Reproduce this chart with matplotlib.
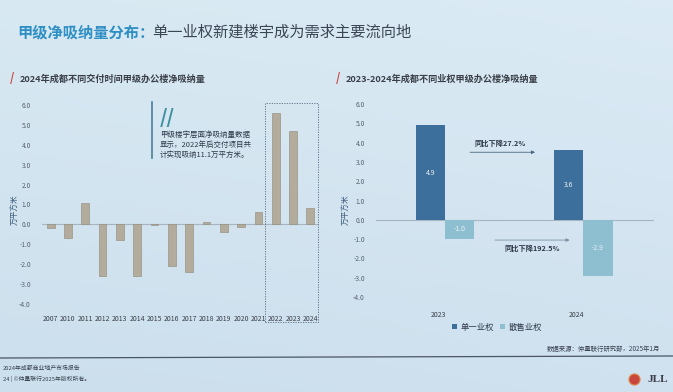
import numpy as np
import matplotlib
matplotlib.use('Agg')
import matplotlib.pyplot as plt
from matplotlib.patches import Rectangle

plt.rcParams['font.family'] = ['Noto Sans CJK SC', 'DejaVu Sans']

# left chart: net absorption by delivery year (10k sqm)
years = ['2007', '2010', '2011', '2012', '2013', '2014', '2015', '2016',
         '2017', '2018', '2019', '2020', '2021', '2022', '2023', '2024']
absorption = [-0.2, -0.7, 1.1, -2.6, -0.8, -2.6, -0.05, -2.1,
              -2.4, 0.1, -0.4, -0.15, 0.6, 5.6, 4.7, 0.8]

# right chart: by ownership type
periods = ['2023', '2024']
single_owner = [4.9, 3.6]
strata_owner = [-1.0, -2.9]
series_names = ['单一业权', '散售业权']

y_ticks = [6.0, 5.0, 4.0, 3.0, 2.0, 1.0, 0.0, -1.0, -2.0, -3.0, -4.0]

W, H = 673, 392
fig = plt.figure(figsize=(W / 100, H / 100), dpi=100)

# background gradient
bg = fig.add_axes([0, 0, 1, 1], zorder=-10)
gx = np.linspace(0, 1, 200)
gy = np.linspace(0, 1, 120)
X, Y = np.meshgrid(gx, gy)
c_top = np.array([0.86, 0.92, 0.96])
c_bot = np.array([0.80, 0.87, 0.93])
c_left = np.array([0.80, 0.89, 0.92])
img = (c_top * (1 - Y[..., None]) + c_bot * Y[..., None]) * 0.75 + \
      (c_left * (1 - X[..., None]) + c_top * X[..., None]) * 0.25
bg.imshow(img, aspect='auto', extent=[0, 1, 0, 1])
bg.set_xlim(0, 1)
bg.set_ylim(0, 1)
bg.set_axis_off()


def fx(px):
    return px / W


def fy(py):
    return 1 - py / H


# title
fig.text(fx(17), fy(32), '甲级净吸纳量分布：', fontsize=11, fontweight='bold',
         color='#2e8fc4', va='center', ha='left')
fig.text(fx(152), fy(32), '单一业权新建楼宇成为需求主要流向地', fontsize=11,
         color='#3b4654', va='center', ha='left')

# subtitles
for x0, txt in [(10, '2024年成都不同交付时间甲级办公楼净吸纳量'),
                (336, '2023-2024年成都不同业权甲级办公楼净吸纳量')]:
    fig.text(fx(x0), fy(79), '/', fontsize=8, fontweight='bold', color='#c8473d',
             va='center', ha='left')
    fig.text(fx(x0 + 10), fy(79), txt, fontsize=6.6, fontweight='bold',
             color='#3a3f48', va='center', ha='left')

# ---------- left chart ----------
ax1 = fig.add_axes([fx(42), fy(304), fx(277), 199 / H])
xs = np.arange(len(years))
ax1.bar(xs, absorption, width=0.45, color='#b3ac9c', edgecolor='#8f8878',
        linewidth=0.4, zorder=3)
ax1.axhline(0, color='#a8b4c0', linewidth=0.8, zorder=2)
ax1.set_ylim(-4, 6)
ax1.set_xlim(-0.5, len(years) - 0.5)
ax1.set_yticks(y_ticks)
ax1.set_yticklabels([f'{v:.1f}' for v in y_ticks])
ax1.set_xticks(xs)
ax1.set_xticklabels(years)
ax1.tick_params(axis='y', length=0, labelsize=4.8, colors='#5a6270', pad=8)
ax1.tick_params(axis='x', length=0, labelsize=5, colors='#3a3f48', pad=8)
for s in ax1.spines.values():
    s.set_visible(False)
ax1.patch.set_alpha(0)
ax1.add_patch(Rectangle((12.4, -4.9), 3.05, 11.0, fill=False, linestyle=(0, (1.5, 1.5)),
                        edgecolor='#5a6a80', linewidth=0.6, clip_on=False, zorder=4))
fig.text(fx(15), fy(210), '万平方米', rotation=90, fontsize=5.5, color='#3a5a7a',
         va='center', ha='center')

# quote box
fig.add_artist(plt.Line2D([fx(152), fx(152)], [fy(102), fy(158)],
                          color='#4a7f9a', linewidth=1.2))
fig.text(fx(160), fy(117), '//', fontsize=14, fontweight='bold', color='#3d8f9e',
         va='center', ha='left', style='italic')
fig.text(fx(160), fy(145), '甲级楼宇层面净吸纳量数据\n显示，2022年后交付项目共\n计实现吸纳11.1万平方米。',
         fontsize=5.4, color='#2f3a4a', va='center', ha='left', linespacing=1.3)

# ---------- right chart ----------
ax2 = fig.add_axes([fx(376), fy(297), fx(278), 193 / H])
px = np.arange(len(periods))
bw = 0.21
b1 = ax2.bar(px - bw / 2, single_owner, width=bw, color='#3d6f9c', zorder=3,
             label=series_names[0])
b2 = ax2.bar(px + bw / 2, strata_owner, width=bw, color='#8ebfd0', zorder=3,
             label=series_names[1])
for bars, vals in [(b1, single_owner), (b2, strata_owner)]:
    for r, v in zip(bars, vals):
        ax2.text(r.get_x() + r.get_width() / 2, v / 2, f'{v:.1f}', ha='center',
                 va='center', fontsize=5, color='#e8f0f6', zorder=4)
ax2.axhline(0, color='#a8b4c0', linewidth=0.8, zorder=2)
ax2.set_ylim(-4, 6)
ax2.set_xlim(-0.5, 1.51)
ax2.set_yticks(y_ticks)
ax2.set_yticklabels([f'{v:.1f}' for v in y_ticks])
ax2.set_xticks(px - 0.05)
ax2.set_xticklabels(periods)
ax2.tick_params(axis='y', length=0, labelsize=4.8, colors='#5a6270', pad=8)
ax2.tick_params(axis='x', length=0, labelsize=5, colors='#3a3f48', pad=10)
for s in ax2.spines.values():
    s.set_visible(False)
ax2.patch.set_alpha(0)
fig.text(fx(346), fy(210), '万平方米', rotation=90, fontsize=5.5, color='#3a5a7a',
         va='center', ha='center')

# growth arrows
ax2.annotate('', xy=(0.67, 3.5), xytext=(0.16, 3.5),
             arrowprops=dict(arrowstyle='-|>', color='#4d6880', lw=0.6,
                             mutation_scale=5))
ax2.text(0.40, 3.95, '同比下降27.2%', fontsize=5.2, color='#2f3a4a',
         ha='center', va='center', fontweight='bold')
ax2.annotate('', xy=(0.92, -1.05), xytext=(0.34, -1.05),
             arrowprops=dict(arrowstyle='-|>', color='#7d92a6', lw=0.6,
                             mutation_scale=5))
ax2.text(0.63, -1.5, '同比下降192.5%', fontsize=5.2, color='#2f3a4a',
         ha='center', va='center', fontweight='bold')

leg = fig.legend(handles=[b1, b2], loc='center', bbox_to_anchor=(fx(497), fy(327)),
                 ncol=2, frameon=False, fontsize=6, handlelength=0.6,
                 handleheight=0.6, columnspacing=0.8, handletextpad=0.4)
for t in leg.get_texts():
    t.set_color('#2f3a4a')

# footer
fig.add_artist(plt.Line2D([0, 1], [fy(358), fy(356)], color='#4a5664', linewidth=0.9))
fig.text(fx(660), fy(353), '数据来源：仲量联行研究部，2025年1月', fontsize=4.6,
         color='#3a4250', ha='right', va='bottom')
fig.text(fx(3), fy(367), '2024年成都商业地产市场报告', fontsize=4.2, color='#3a4250',
         ha='left', va='center')
fig.text(fx(3), fy(379), '24 | ©仲量联行2025年版权所有。', fontsize=4.2, color='#3a4250',
         ha='left', va='center')
fig.text(fx(668), fy(379), 'JLL', fontsize=8, fontweight='bold', color='#3a3f48',
         ha='right', va='center', family='Liberation Serif')
bg.plot([fx(634)], [fy(379)], marker='o', markersize=8, color='#c8473d',
        markeredgecolor='#e08a50', markeredgewidth=0.8)

fig.savefig('out.png', dpi=100)
